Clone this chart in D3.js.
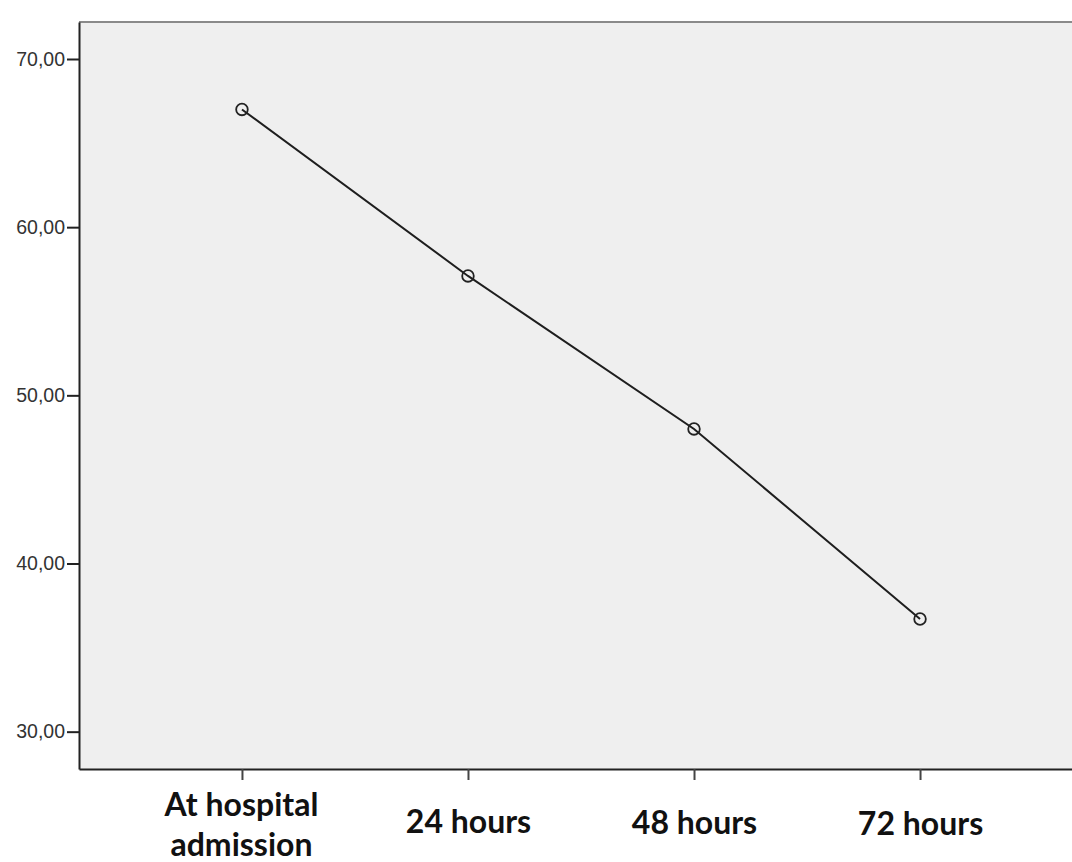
<!DOCTYPE html>
<html>
<head>
<meta charset="utf-8">
<script src="https://cdn.jsdelivr.net/npm/d3@7"></script>
<style>
  body { margin: 0; background: #fff; }
</style>
</head>
<body>
<div id="chart"></div>
<script>
// Data
const timePoints = ["At hospital admission", "24 hours", "48 hours", "72 hours"];
const meanValues = [67.0, 57.1, 48.0, 36.7];
const yTicks = [30, 40, 50, 60, 70];

const width = 1072, height = 862;
const margin = { top: 22, right: -11, bottom: 93, left: 79 };
const plotW = width - margin.left - margin.right;
const plotH = height - margin.top - margin.bottom;

const svg = d3.select("#chart").append("svg")
    .attr("width", width)
    .attr("height", height);

const g = svg.append("g")
    .attr("transform", `translate(${margin.left},${margin.top})`);

const x = d3.scalePoint()
    .domain(timePoints)
    .range([0, plotW])
    .padding(0.721);

const y = d3.scaleLinear()
    .domain([27.78, 72.2])
    .range([plotH, 0]);

// plot background
g.append("rect")
    .attr("width", plotW)
    .attr("height", plotH)
    .attr("fill", "#efefef");

// top frame line (grey)
g.append("line")
    .attr("x1", 0).attr("x2", plotW)
    .attr("y1", 0).attr("y2", 0)
    .attr("stroke", "#8a8a8a")
    .attr("stroke-width", 2);

// Y axis
const yAxis = g.append("g")
    .call(d3.axisLeft(y).tickValues(yTicks).tickSize(12).tickSizeOuter(0)
        .tickFormat(d => d3.format(".2f")(d).replace(".", ",")));
yAxis.select(".domain").attr("stroke", "#222").attr("stroke-width", 2);
yAxis.selectAll(".tick line").attr("stroke", "#222").attr("stroke-width", 2);
yAxis.selectAll(".tick text")
    .attr("x", -14)
    .attr("fill", "#333")
    .style("font-family", "'Liberation Sans', Arial, sans-serif")
    .style("font-size", "19.5px");

// X axis
const xAxis = g.append("g")
    .attr("transform", `translate(0,${plotH})`)
    .call(d3.axisBottom(x).tickSize(11).tickSizeOuter(0).tickFormat(""));
xAxis.select(".domain").attr("stroke", "#222").attr("stroke-width", 2);
xAxis.selectAll(".tick line").attr("stroke", "#444").attr("stroke-width", 2);

// category labels, bold
const labelLines = {
    "At hospital admission": ["At hospital", "admission"]
};
xAxis.selectAll(".tick").each(function(d, i) {
    const lines = labelLines[d] || [d];
    const t = d3.select(this).append("text")
        .attr("fill", "#111")
        .attr("text-anchor", "middle")
        .style("font-family", "Lato, 'Open Sans', sans-serif")
        .style("font-weight", "700")
        .style("font-size", "32px");
    if (lines.length > 1) {
        lines.forEach((s, k) => {
            t.append("tspan").attr("x", -1).attr("y", 47 + k * 40).text(s);
        });
    } else {
        t.attr("y", 63 + i).text(lines[0]);
    }
});

// line
const line = d3.line()
    .x((d, i) => x(timePoints[i]))
    .y(d => y(d));

g.append("path")
    .datum(meanValues)
    .attr("fill", "none")
    .attr("stroke", "#1e1e1e")
    .attr("stroke-width", 2)
    .attr("d", line);

g.selectAll("circle.pt")
    .data(meanValues)
    .enter().append("circle")
    .attr("class", "pt")
    .attr("cx", (d, i) => x(timePoints[i]))
    .attr("cy", d => y(d))
    .attr("r", 5.8)
    .attr("fill", "none")
    .attr("stroke", "#222")
    .attr("stroke-width", 1.8);
</script>
</body>
</html>
